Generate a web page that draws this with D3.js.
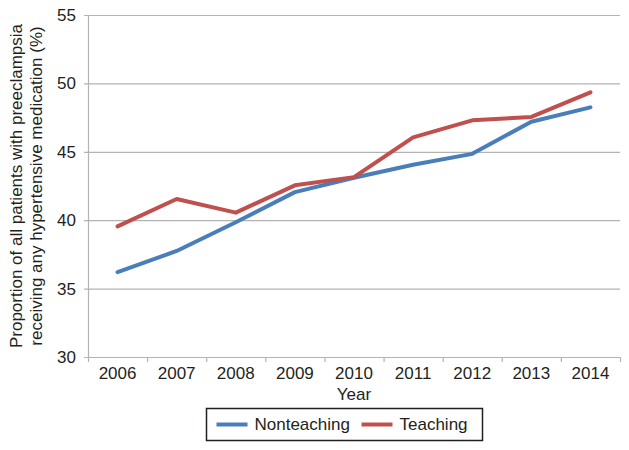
<!DOCTYPE html>
<html>
<head>
<meta charset="utf-8">
<script src="https://cdn.jsdelivr.net/npm/d3@7"></script>
<style>
  body { margin: 0; background: #fff; }
  text { font-family: "Liberation Sans", Arial, sans-serif; fill: #231f20; }
</style>
</head>
<body>
<div id="chart"></div>
<script>
const years = ["2006","2007","2008","2009","2010","2011","2012","2013","2014"];
const nonteaching = [36.2, 37.75, 39.85, 42.05, 43.1, 44.05, 44.85, 47.2, 48.25];
const teaching = [39.55, 41.55, 40.55, 42.55, 43.15, 46.05, 47.3, 47.55, 49.35];
const yTicks = [30, 35, 40, 45, 50, 55];

const margin = {top: 15, right: 9, bottom: 93, left: 88};
const width = 629 - margin.left - margin.right;
const height = 450 - margin.top - margin.bottom;

const svg = d3.select("#chart").append("svg")
    .attr("width", 629)
    .attr("height", 450);

const chart = svg.append("g")
    .attr("transform", "translate(" + margin.left + "," + margin.top + ")");

const x = d3.scaleBand()
    .domain(years)
    .range([0, width]);

const y = d3.scaleLinear()
    .domain([30, 55])
    .range([height, 0]);

// gridlines
chart.append("g")
    .selectAll("line")
    .data(yTicks)
    .enter().append("line")
    .attr("x1", -4)
    .attr("x2", width)
    .attr("y1", d => y(d) + 0.5)
    .attr("y2", d => y(d) + 0.5)
    .attr("stroke", "#b3b3b3")
    .attr("stroke-width", 1.2);

// y axis line
chart.append("line")
    .attr("x1", 0.5).attr("x2", 0.5)
    .attr("y1", 0).attr("y2", height)
    .attr("stroke", "#b3b3b3")
    .attr("stroke-width", 1.2);

// y labels
chart.append("g")
    .selectAll("text")
    .data(yTicks)
    .enter().append("text")
    .attr("x", -12)
    .attr("y", d => y(d))
    .attr("dy", "0.35em")
    .attr("text-anchor", "end")
    .attr("font-size", 17)
    .text(d => d);

// x ticks at band edges
const edges = years.map(d => x(d)).concat([width]);
chart.append("g")
    .selectAll("line")
    .data(edges)
    .enter().append("line")
    .attr("x1", d => d + 0.5)
    .attr("x2", d => d + 0.5)
    .attr("y1", height)
    .attr("y2", height + 5)
    .attr("stroke", "#b3b3b3")
    .attr("stroke-width", 1.2);

chart.append("g")
    .selectAll("text")
    .data(years)
    .enter().append("text")
    .attr("x", d => x(d) + x.bandwidth() / 2)
    .attr("y", height + 22)
    .attr("text-anchor", "middle")
    .attr("font-size", 17)
    .text(d => d);

chart.append("text")
    .attr("x", width / 2)
    .attr("y", height + 43)
    .attr("text-anchor", "middle")
    .attr("font-size", 17)
    .text("Year");

// y title
const yTitle = svg.append("text")
    .attr("transform", "translate(22," + (margin.top + height / 2) + ") rotate(-90)")
    .attr("text-anchor", "middle")
    .attr("font-size", 17);
yTitle.append("tspan").attr("x", 0).attr("dy", 0).text("Proportion of all patients with preeclampsia");
yTitle.append("tspan").attr("x", 0).attr("dy", 20).text("receiving any hypertensive medication (%)");

// lines
const series = [
  {name: "Nonteaching", values: nonteaching, color: "#4a7ebb"},
  {name: "Teaching", values: teaching, color: "#c0504d"}
];

const line = d3.line()
    .x((d, i) => x(years[i]) + x.bandwidth() / 2)
    .y(d => y(d));

chart.selectAll(".series")
    .data(series)
    .enter().append("path")
    .attr("class", "series")
    .attr("fill", "none")
    .attr("stroke", d => d.color)
    .attr("stroke-width", 4)
    .attr("stroke-linejoin", "round")
    .attr("stroke-linecap", "round")
    .attr("d", d => line(d.values));

// legend
const legend = svg.append("g")
    .attr("transform", "translate(206.5,408.5)");

legend.append("rect")
    .attr("width", 276)
    .attr("height", 32)
    .attr("fill", "none")
    .attr("stroke", "#231f20")
    .attr("stroke-width", 1.5);

const legendItems = legend.selectAll(".item")
    .data(series)
    .enter().append("g")
    .attr("class", "item")
    .attr("transform", (d, i) => "translate(" + (i === 0 ? 10 : 155) + ",16)");

legendItems.append("line")
    .attr("x1", 0).attr("x2", 31)
    .attr("stroke", d => d.color)
    .attr("stroke-width", 4);

legendItems.append("text")
    .attr("x", 38)
    .attr("dy", "0.35em")
    .attr("font-size", 17)
    .text(d => d.name);
</script>
</body>
</html>
